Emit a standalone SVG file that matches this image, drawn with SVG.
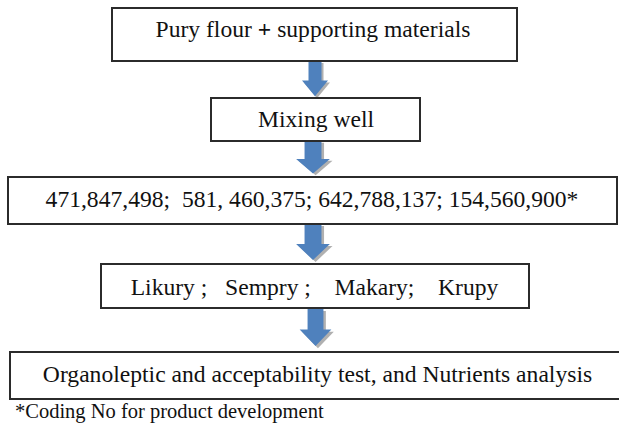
<svg xmlns="http://www.w3.org/2000/svg" width="619" height="425" viewBox="0 0 619 425">
<style>
.box{fill:#fff;stroke:#2b2b2b;stroke-width:2}
.t{font-family:"Liberation Serif","Times New Roman",serif;font-size:23.6px;fill:#111;text-anchor:middle}
.arrow{fill:#4f81bd}
.shadow{fill:#b0b0b0}
</style>
<defs>
<polygon id="arr" points="-6.5,0 6.5,0 6.5,20 13,20 0,36 -13,20 -6.5,20"/>
</defs>
<g id="connectors">
<g transform="translate(315,61) scale(1,1)"><use href="#arr" class="shadow" x="2" y="2" transform="scale(1,0.98)"/><use href="#arr" class="arrow" transform="scale(1,0.98)"/></g>
<g transform="translate(313,141)"><use href="#arr" class="shadow" x="2" y="2" transform="scale(1.3,0.9)"/><use href="#arr" class="arrow" transform="scale(1.3,0.9)"/></g>
<g transform="translate(313,224)"><use href="#arr" class="shadow" x="2" y="2" transform="scale(1.3,1)"/><use href="#arr" class="arrow" transform="scale(1.3,1)"/></g>
<g transform="translate(315.5,309)"><use href="#arr" class="shadow" x="2" y="2" transform="scale(1.22,1.03)"/><use href="#arr" class="arrow" transform="scale(1.22,1.03)"/></g>
</g>
<g id="node1">
<rect class="box" x="112" y="8" width="405" height="53"/>
<text class="t" x="313" y="37">Pury flour <tspan font-weight="bold">+</tspan> supporting materials</text>
</g>
<g id="node2">
<rect class="box" x="211" y="98" width="209" height="43"/>
<text class="t" x="316" y="127">Mixing well</text>
</g>
<g id="node3">
<rect class="box" x="8" y="177" width="609" height="47"/>
<text class="t" x="312" y="207" xml:space="preserve">471,847,498;  581, 460,375; 642,788,137; 154,560,900*</text>
</g>
<g id="node4">
<rect class="box" x="101" y="264" width="428" height="44"/>
<text class="t" x="314.5" y="295" xml:space="preserve">Likury ;   Sempry ;    Makary;    Krupy</text>
</g>
<g id="node5">
<rect class="box" x="10" y="352" width="620" height="47"/>
<text class="t" x="317.5" y="382">Organoleptic and acceptability test, and Nutrients analysis</text>
</g>
<text class="t" x="15" y="418" style="text-anchor:start;font-size:20.5px">*Coding No for product development</text>
</svg>
